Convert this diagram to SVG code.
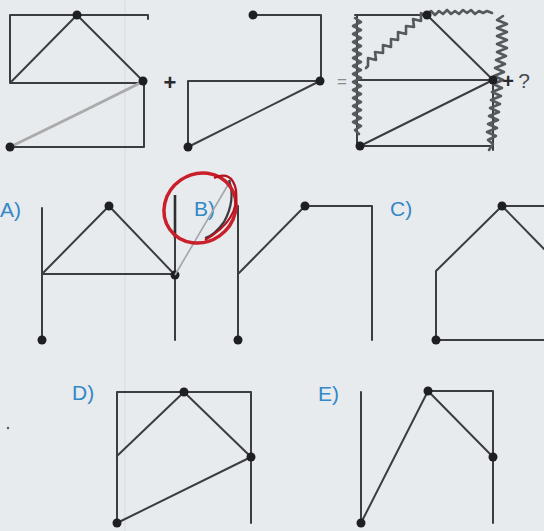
<svg xmlns="http://www.w3.org/2000/svg" width="544" height="531" viewBox="0 0 544 531">
<style>
.ln{stroke:#3b3d40;stroke-width:2;fill:none;stroke-linecap:round;stroke-linejoin:round}
.dot{fill:#1e1f22}
.lbl{font-family:"Liberation Sans",Arial,sans-serif;font-size:21px;fill:#3388c8}
.sym{font-family:"Liberation Sans",Arial,sans-serif;font-weight:bold;fill:#2a2b2e}
.scr{stroke:#55585c;stroke-width:2.6;fill:none;stroke-linejoin:round;stroke-linecap:round}
</style>
<rect x="0" y="0" width="544" height="531" fill="#e8ebed"/>
<line x1="125" y1="0" x2="125" y2="531" stroke="#dadde0" stroke-width="1.2"/>

<g id="fig1">
<path class="ln" d="M10,15 H148 V19 M10,15 V83 H143 M10,83 L77,15 L143,81 M144,81 V147 H10"/>
<path d="M12,146 Q70,118 142,82" stroke="#a9abad" stroke-width="3" fill="none" stroke-linecap="round"/>
<circle class="dot" cx="77" cy="15" r="4.5"/>
<circle class="dot" cx="143" cy="81" r="4.5"/>
<circle class="dot" cx="10" cy="147" r="4.5"/>
</g>
<text class="sym" x="170" y="90" font-size="22" text-anchor="middle">+</text>

<g id="fig2">
<path class="ln" d="M253,15 H321 V81 H188 V147 L320,81"/>
<circle class="dot" cx="253" cy="15" r="4.5"/>
<circle class="dot" cx="320" cy="81" r="4.5"/>
<circle class="dot" cx="188" cy="147" r="4.5"/>
</g>
<text x="342" y="87" font-family="Liberation Sans,Arial,sans-serif" font-size="17" fill="#8a8c8e" text-anchor="middle">=</text>

<g id="fig3">
<path class="ln" d="M355,15 H427 M357,15 V146 M357,80 H493 M360,146 H493 M427,15 L493,80 L360,146 M493,80 V150"/>
<path class="scr" d="M427,14 l4,-3 4,4 4,-4 4,3 4,-4 4,4 4,-3 4,3 4,-4 4,3 4,-3 4,4 4,-3 4,2 4,-2 5,2"/>
<path class="scr" d="M355,18 l6,4 -8,4 8,4 -8,4 8,4 -8,4 8,4 -8,4 8,4 -8,4 8,4 -8,4 8,4 -8,4 8,4 -8,4 8,4 -8,4 8,4 -8,4 8,4 -8,4 8,4 -8,4 8,4 -8,4 8,4 -6,4 4,4"/>
<path class="scr" d="M503,16 l-6,4 10,4 -10,4 10,4 -10,4 10,4 -10,4 10,4 -10,4 9,4 -10,4 9,4 -10,4 9,4 -10,4 9,4 -10,4 9,4 -10,4 9,4 -10,4 9,4 -10,4 9,4 -10,4 9,4 -10,4 9,4 -10,4 9,4 -8,4 5,4 -4,6"/>
<path class="scr" d="M366,68 L368,66 L368,58 L376,60 L375,52 L383,53 L383,45 L391,47 L391,39 L398,40 L398,32 L406,34 L406,26 L414,27 L413,19 L421,21 L421,13 L426,16"/>
<circle class="dot" cx="427" cy="15" r="4.5"/>
<circle class="dot" cx="493" cy="80" r="4.5"/>
<circle class="dot" cx="360" cy="146" r="4.5"/>
</g>
<text class="sym" x="508" y="88" font-size="20" text-anchor="middle">+</text>
<text x="524" y="88" font-family="Liberation Sans,Arial,sans-serif" font-size="21" fill="#4a4c50" text-anchor="middle">?</text>

<g id="optA">
<text class="lbl" x="0" y="217">A)</text>
<path class="ln" d="M42,208 V340 M42,274 L109,206 L175,275 M42,274 H175 M175,208 V340"/>
<circle class="dot" cx="109" cy="206" r="4.5"/>
<circle class="dot" cx="175" cy="275" r="4.5"/>
<circle class="dot" cx="42" cy="340" r="4.5"/>
</g>

<g id="optB">
<text class="lbl" x="194" y="216">B)</text>
<path class="ln" d="M238,206 V340 M239,273 L305,206 H372 V340"/>
<circle class="dot" cx="305" cy="206" r="4.5"/>
<circle class="dot" cx="238" cy="340" r="4.5"/>
</g>

<g id="marks">
<path d="M175,275 L232,178" stroke="#a3a5a8" stroke-width="1.6" fill="none"/>
<path d="M175,195 V238" stroke="#2c2e31" stroke-width="2.6" fill="none"/>
<path d="M229,180 Q236,200 224,222 Q214,236 205,238" stroke="#3a3c3f" stroke-width="2.2" fill="none"/>
<ellipse cx="200" cy="208" rx="37" ry="34" transform="rotate(-35 200 208)" stroke="#c91f2a" stroke-width="3.5" fill="none"/>
<path d="M214,178 Q232,170 236,190 Q240,220 205,240" stroke="#b5121e" stroke-width="2.2" fill="none"/>
</g>

<g id="optC">
<text class="lbl" x="390" y="216">C)</text>
<path class="ln" d="M544,206 H502 L544,249 M502,206 L436,271 V340 H544"/>
<circle class="dot" cx="502" cy="206" r="4.5"/>
<circle class="dot" cx="436" cy="340" r="4.5"/>
</g>

<g id="optD">
<text class="lbl" x="72" y="400">D)</text>
<path class="ln" d="M117,523 V392 H251 V523 M117,456 L184,392 L251,457 L117,523"/>
<circle class="dot" cx="184" cy="392" r="4.5"/>
<circle class="dot" cx="251" cy="457" r="4.5"/>
<circle class="dot" cx="117" cy="523" r="4.5"/>
</g>
<circle cx="8" cy="428" r="1.2" fill="#555"/>

<g id="optE">
<text class="lbl" x="318" y="401">E)</text>
<path class="ln" d="M361,392 V523 L428,391 H493 V523 M428,391 L493,457"/>
<circle class="dot" cx="428" cy="391" r="4.5"/>
<circle class="dot" cx="493" cy="457" r="4.5"/>
<circle class="dot" cx="361" cy="523" r="4.5"/>
</g>
</svg>
